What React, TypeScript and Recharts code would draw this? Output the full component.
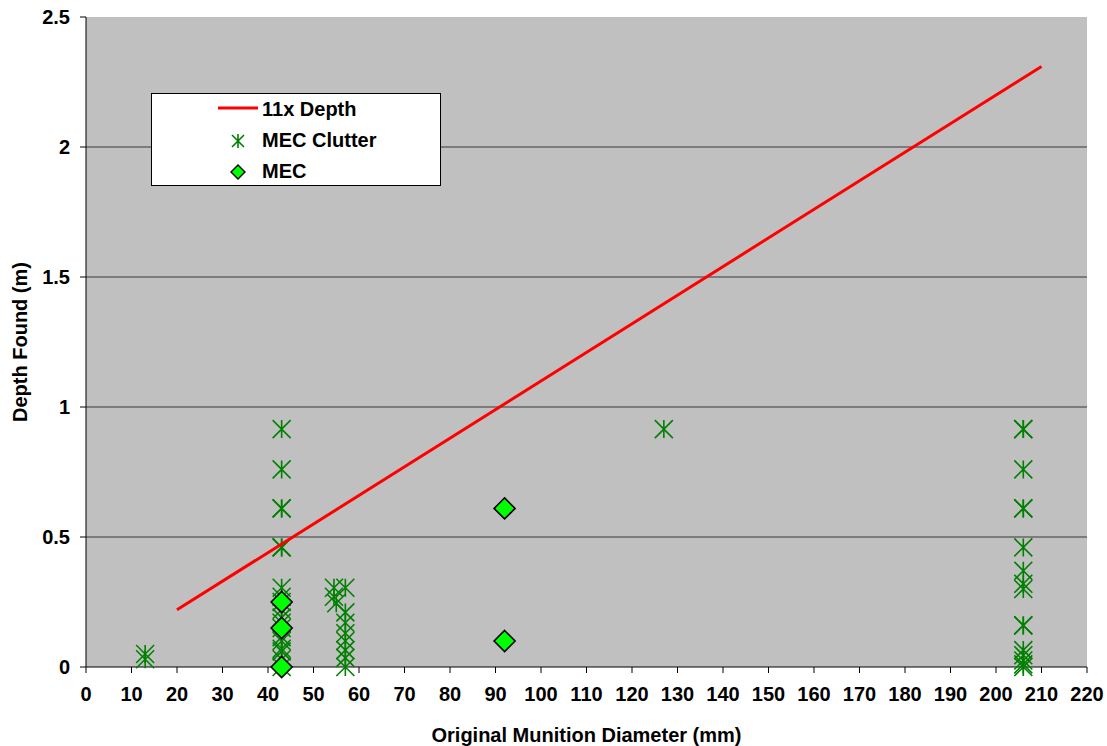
import React from "react";
import {
  ScatterChart,
  Scatter,
  XAxis,
  YAxis,
  ReferenceLine,
  ReferenceArea,
  Legend,
} from "recharts";

// ---- data ----
const clutterDiameter = [
  13, 13,
  43, 43, 43, 43, 43, 43, 43, 43, 43, 43, 43, 43, 43, 43, 43, 43, 43, 43, 43,
  54.5, 54.5, 55, 57, 57, 57, 57, 57, 57, 57, 57,
  127,
  206, 206, 206, 206, 206, 206, 206, 206, 206, 206, 206, 206, 206, 206, 206, 206,
];
const clutterDepth = [
  0.05, 0.03,
  0.915, 0.76, 0.61, 0.61, 0.46, 0.46, 0.305, 0.27, 0.25, 0.22, 0.19, 0.17, 0.15, 0.115, 0.1, 0.07, 0.06, 0.03, 0.0,
  0.305, 0.27, 0.245, 0.305, 0.21, 0.17, 0.13, 0.1, 0.065, 0.035, 0.0,
  0.915,
  0.915, 0.915, 0.76, 0.61, 0.61, 0.46, 0.37, 0.32, 0.3, 0.16, 0.16, 0.065, 0.045, 0.025, 0.01, 0.0,
];
const mecDiameter = [43, 43, 43, 92, 92];
const mecDepth = [0.25, 0.15, 0.0, 0.61, 0.1];
const lineDiameter = [20, 210];
const lineDepth = [0.22, 2.31];
const xTicks = [0, 10, 20, 30, 40, 50, 60, 70, 80, 90, 100, 110, 120, 130, 140, 150, 160, 170, 180, 190, 200, 210, 220];
const yTicks = [0, 0.5, 1, 1.5, 2, 2.5];
const gridValues = [0.5, 1, 1.5, 2];
const seriesNames = ["11x Depth", "MEC Clutter", "MEC"];

const clutterData = clutterDiameter.map((x, i) => ({ x, y: clutterDepth[i] }));
const mecData = mecDiameter.map((x, i) => ({ x, y: mecDepth[i] }));
const lineData = lineDiameter.map((x, i) => ({ x, y: lineDepth[i] }));

const FONT = "'Liberation Sans', Arial, sans-serif";
const FS = 20;
const GREEN = "#008000";

const Asterisk = (props: any) => {
  const { cx, cy } = props;
  const r = 9;
  const d = `M${cx - r},${cy - r}L${cx + r},${cy + r}M${cx + r},${cy - r}L${cx - r},${cy + r}M${cx},${cy - r}L${cx},${cy + r}`;
  return <path d={d} stroke={GREEN} strokeWidth={1.6} fill="none" />;
};

const Diamond = (props: any) => {
  const { cx, cy } = props;
  const r = 10.5;
  const d = `M${cx},${cy - r}L${cx + r},${cy}L${cx},${cy + r}L${cx - r},${cy}Z`;
  return <path d={d} stroke="#000" strokeWidth={1.6} fill="#00ff00" />;
};

const NoShape = () => <g />;

const LegendBox = () => (
  <svg width={291} height={94} style={{ display: "block" }}>
    <rect x={0.5} y={0.5} width={289} height={92} fill="#fff" stroke="#000" strokeWidth={1} />
    <line x1={67} y1={15} x2={107} y2={15} stroke="#ff0000" strokeWidth={3} />
    <path d="M81,42L93,54M93,42L81,54M87,41L87,55" stroke={GREEN} strokeWidth={1.6} fill="none" />
    <path d="M87,72L94,79L87,86L80,79Z" stroke="#000" strokeWidth={1.4} fill="#00ff00" />
    <g fontFamily={FONT} fontWeight="bold" fontSize={FS} fill="#000">
      <text x={111} y={23}>{seriesNames[0]}</text>
      <text x={111} y={54}>{seriesNames[1]}</text>
      <text x={111} y={85}>{seriesNames[2]}</text>
    </g>
  </svg>
);

export default function App() {
  return (
    <div style={{ position: "absolute", left: 0, top: 0, width: 1107, height: 746, background: "#fff" }}>
      <ScatterChart
        width={1107}
        height={746}
        margin={{ top: 17, right: 20, left: 0, bottom: 0 }}
        style={{ fontFamily: FONT }}
      >
        <ReferenceArea x1={0} x2={220} y1={0} y2={2.5} fill="#c0c0c0" fillOpacity={1} stroke="none" />
        {gridValues.map((v) => (
          <ReferenceLine key={v} y={v} stroke="#383838" strokeWidth={1} />
        ))}
        <XAxis
          type="number"
          dataKey="x"
          domain={[0, 220]}
          ticks={xTicks}
          interval={0}
          height={79}
          tickSize={6}
          tickMargin={14}
          axisLine={{ stroke: "#000" }}
          tickLine={{ stroke: "#000" }}
          tick={{ fill: "#000", fontSize: FS, fontWeight: "bold", fontFamily: FONT }}
          label={{
            value: "Original Munition Diameter (mm)",
            position: "insideBottom",
            offset: 4,
            fill: "#000",
            fontSize: FS,
            fontWeight: "bold",
            fontFamily: FONT,
          }}
        />
        <YAxis
          type="number"
          dataKey="y"
          domain={[0, 2.5]}
          ticks={yTicks}
          interval={0}
          width={86}
          tickSize={6}
          tickMargin={10}
          axisLine={{ stroke: "#000" }}
          tickLine={{ stroke: "#000" }}
          tick={{ fill: "#000", fontSize: FS, fontWeight: "bold", fontFamily: FONT }}
          label={{
            value: "Depth Found (m)",
            angle: -90,
            position: "center",
            dx: -23,
            fill: "#000",
            fontSize: FS,
            fontWeight: "bold",
            fontFamily: FONT,
          }}
        />
        <Legend
          layout="vertical"
          align="center"
          verticalAlign="middle"
          content={() => <LegendBox />}
          wrapperStyle={{ left: 151, top: 93, width: 291, height: 94, bottom: "auto", right: "auto" }}
        />
        <Scatter name={seriesNames[1]} data={clutterData} shape={Asterisk} isAnimationActive={false} />
        <Scatter
          name={seriesNames[0]}
          data={lineData}
          line={{ stroke: "#ff0000", strokeWidth: 3 }}
          shape={NoShape}
          isAnimationActive={false}
        />
        <Scatter name={seriesNames[2]} data={mecData} shape={Diamond} isAnimationActive={false} />
      </ScatterChart>
    </div>
  );
}
